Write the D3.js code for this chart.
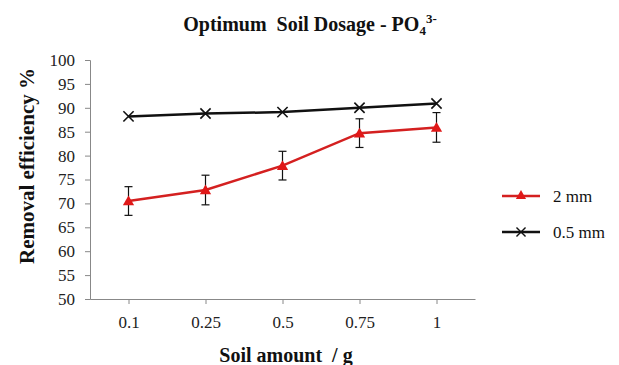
<!DOCTYPE html>
<html>
<head>
<meta charset="utf-8">
<script src="https://cdn.jsdelivr.net/npm/d3@7"></script>
<style>
  body { margin: 0; background: #fff; }
  svg { display: block; }
  svg text { font-family: "Liberation Serif", "DejaVu Serif", serif; }
</style>
</head>
<body>
<div id="chart"></div>
<script>
// Datos
const categories = ['0.1', '0.25', '0.5', '0.75', '1'];
const series2mm = [70.5, 72.8, 77.9, 84.7, 85.9];
const error2mm = [3.0, 3.1, 3.0, 3.0, 3.1];
const series05mm = [88.2, 88.8, 89.1, 90.0, 90.9];
const yTicks = [50, 55, 60, 65, 70, 75, 80, 85, 90, 95, 100];

const width = 619;
const height = 365;
const margin = { top: 60, right: 144, bottom: 66, left: 90 };
const serif = '"Liberation Serif", "DejaVu Serif", serif';

const svg = d3.select('#chart').append('svg')
    .attr('width', width)
    .attr('height', height);

const x = d3.scalePoint()
    .domain(categories)
    .range([margin.left, width - margin.right])
    .padding(0.5);

const y = d3.scaleLinear()
    .domain([50, 100])
    .range([height - margin.bottom, margin.top]);

// Eje Y
const yAxis = svg.append('g')
    .attr('transform', `translate(${margin.left},0)`)
    .call(d3.axisLeft(y).tickValues(yTicks).tickSize(5).tickPadding(10));
yAxis.attr('font-family', serif);
yAxis.selectAll('text')
    .attr('fill', '#222')
    .style('font-size', '17px');

// Eje X
const xAxis = svg.append('g')
    .attr('transform', `translate(0,${height - margin.bottom})`)
    .call(d3.axisBottom(x).tickSize(5).tickPadding(12).tickSizeOuter(0));
xAxis.attr('font-family', serif);
xAxis.selectAll('text')
    .attr('fill', '#222')
    .style('font-size', '17px');

svg.selectAll('.domain, .tick line').attr('stroke', '#888');

// Barras de error
const errG = svg.append('g');
categories.forEach((c, i) => {
    const cx = x(c);
    const top = y(series2mm[i] + error2mm[i]);
    const bot = y(series2mm[i] - error2mm[i]);
    errG.append('line').attr('x1', cx).attr('x2', cx).attr('y1', top).attr('y2', bot)
        .attr('stroke', '#111').attr('stroke-width', 1.2);
    [top, bot].forEach(v => {
        errG.append('line').attr('x1', cx - 4).attr('x2', cx + 4).attr('y1', v).attr('y2', v)
            .attr('stroke', '#111').attr('stroke-width', 1.2);
    });
});

const line = d3.line()
    .x((d, i) => x(categories[i]))
    .y(d => y(d));

// Serie 0.5 mm
svg.append('path')
    .datum(series05mm)
    .attr('fill', 'none')
    .attr('stroke', '#111')
    .attr('stroke-width', 2.5)
    .attr('d', line);

svg.selectAll('.mk05')
    .data(series05mm)
    .enter()
    .append('path')
    .attr('class', 'mk05')
    .attr('transform', (d, i) => `translate(${x(categories[i])},${y(d)})`)
    .attr('d', d3.symbol(d3.symbolX, 70)())
    .attr('fill', 'none')
    .attr('stroke', '#111')
    .attr('stroke-width', 1.6);

// Serie 2 mm
svg.append('path')
    .datum(series2mm)
    .attr('fill', 'none')
    .attr('stroke', '#d42020')
    .attr('stroke-width', 2.5)
    .attr('d', line);

svg.selectAll('.mk2')
    .data(series2mm)
    .enter()
    .append('path')
    .attr('class', 'mk2')
    .attr('transform', (d, i) => `translate(${x(categories[i])},${y(d) + 1})`)
    .attr('d', d3.symbol(d3.symbolTriangle, 55)())
    .attr('fill', '#e01818');

// Título
const title = svg.append('text')
    .attr('x', 310)
    .attr('y', 31)
    .attr('text-anchor', 'middle')
    .attr('font-size', '20px')
    .attr('font-weight', 'bold')
    .attr('fill', '#111')
    .attr('xml:space', 'preserve');
title.append('tspan').text('Optimum  Soil Dosage - PO');
title.append('tspan').attr('font-size', '13px').attr('dy', 4).text('4');
title.append('tspan').attr('font-size', '13px').attr('dy', -12).text('3-');

// Etiquetas de ejes
svg.append('text')
    .attr('transform', 'translate(34,166) rotate(-90)')
    .attr('text-anchor', 'middle')
    .attr('font-size', '21px')
    .attr('font-weight', 'bold')
    .attr('fill', '#111')
    .text('Removal efficiency %');

svg.append('text')
    .attr('x', 286)
    .attr('y', 362)
    .attr('text-anchor', 'middle')
    .attr('font-size', '20px')
    .attr('font-weight', 'bold')
    .attr('fill', '#111')
    .attr('xml:space', 'preserve')
    .text('Soil amount  / g');

// Leyenda
const legend = [
    { name: '2 mm', color: '#d42020', symbol: d3.symbolTriangle, fill: '#e01818' },
    { name: '0.5 mm', color: '#111', symbol: d3.symbolX, fill: 'none' }
];
legend.forEach((l, i) => {
    const ly = 196 + i * 36;
    svg.append('line').attr('x1', 502).attr('x2', 540).attr('y1', ly).attr('y2', ly)
        .attr('stroke', l.color).attr('stroke-width', 2.5);
    svg.append('path')
        .attr('transform', `translate(521,${ly})`)
        .attr('d', d3.symbol(l.symbol, l.fill === 'none' ? 55 : 45)())
        .attr('fill', l.fill)
        .attr('stroke', l.fill === 'none' ? l.color : 'none')
        .attr('stroke-width', 1.4);
    svg.append('text')
        .attr('x', 553).attr('y', ly + 6)
        .attr('font-size', '17px')
        .attr('fill', '#111')
        .text(l.name);
});
</script>
</body>
</html>
